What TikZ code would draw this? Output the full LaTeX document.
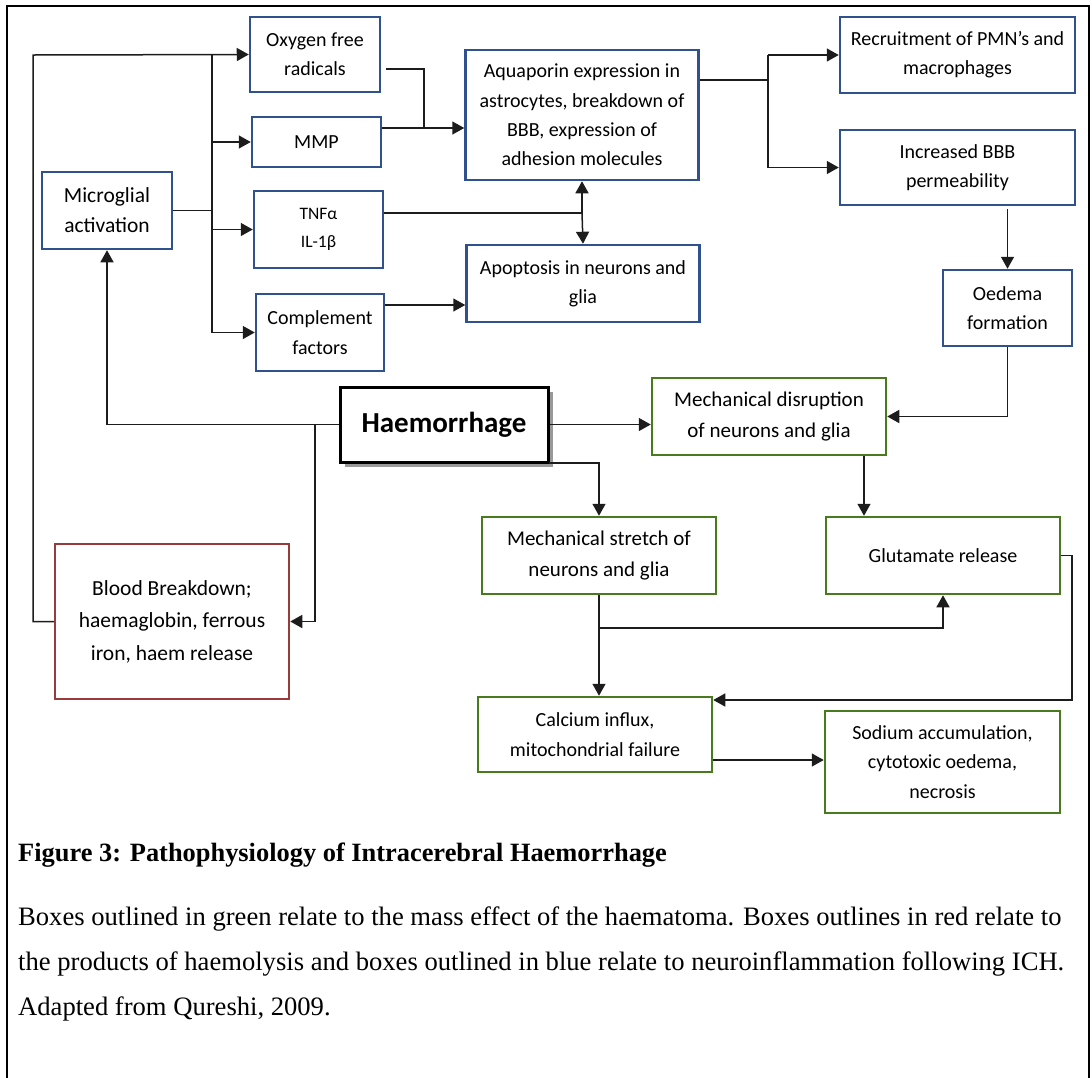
\documentclass[tikz,border=0pt]{standalone}
\usepackage{fontspec}
\setmainfont{Liberation Serif}
\newfontfamily\boxfont{Carlito}
\usetikzlibrary{arrows.meta,shadows}
\definecolor{bxblue}{HTML}{2F528F}
\definecolor{bxgreen}{HTML}{4A7A1E}
\definecolor{bxred}{HTML}{9A3B3B}
\definecolor{lnc}{HTML}{1C1C1C}
\begin{document}
\begin{tikzpicture}[x=1pt,y=-1pt,
  bx/.style={draw, line width=2.5pt, inner sep=0pt, align=center, fill=white,
    font=\boxfont\fontsize{20}{29.3}\selectfont},
  bblue/.style={bx, draw=bxblue},
  bgreen/.style={bx, draw=bxgreen, font=\boxfont\fontsize{21}{31.5}\selectfont},
  bgreens/.style={bx, draw=bxgreen},
  bred/.style={bx, draw=bxred, font=\boxfont\fontsize{21.5}{32.5}\selectfont},
  ln/.style={draw=lnc, line width=1.5pt},
  arr/.style={ln, -{Triangle[length=12pt,width=13pt]}},
]
\useasboundingbox (0,0) rectangle (1092,1077);
\draw[line width=2pt] (7,1080) -- (7,6) -- (1089,6) -- (1089,1080);

% blue boxes
\node[bblue, minimum width=130, minimum height=75] (oxy) at (315,54.5) {Oxygen free\\radicals};
\node[bblue, minimum width=129, minimum height=50] (mmp) at (316.5,142) {MMP};
\node[bblue, minimum width=129, minimum height=77, font=\boxfont\fontsize{17.5}{28}\selectfont] (tnf) at (318.5,229.5) {TNFα\\IL-1β};
\node[bblue, minimum width=128, minimum height=77] (comp) at (320,332.5) {Complement\\factors};
\node[bblue, minimum width=130, minimum height=77, font=\boxfont\fontsize{21.5}{30}\selectfont] (micro) at (107,210.5) {Microglial\\activation};
\node[bblue, minimum width=233, minimum height=130] (aqua) at (582,115) {Aquaporin expression in\\astrocytes, breakdown of\\BBB, expression of\\adhesion molecules};
\node[bblue, minimum width=233, minimum height=77] (apop) at (583,283.5) {Apoptosis in neurons and\\glia};
\node[bblue, minimum width=235, minimum height=76] (recr) at (957.5,55) {Recruitment of PMN’s and\\macrophages};
\node[bblue, minimum width=235, minimum height=75] (incr) at (957.5,167.5) {Increased BBB\\permeability};
\node[bblue, minimum width=129, minimum height=76] (oed) at (1007.5,308) {Oedema\\formation};

% haemorrhage
\node[draw=black, line width=3pt, fill=white, minimum width=208, minimum height=75, inner sep=0pt,
  font=\boxfont\bfseries\fontsize{29}{34}\selectfont,
  drop shadow={shadow xshift=5pt, shadow yshift=-5pt, fill=black!40, opacity=1}] (haem) at (444,424.5) {Haemorrhage};

% red
\node[bred, minimum width=234, minimum height=155] (blood) at (172,621.5) {Blood Breakdown;\\haemaglobin, ferrous\\iron, haem release};

% green
\node[bgreen, minimum width=234, minimum height=77] (disr) at (769,416.5) {Mechanical disruption\\of neurons and glia};
\node[bgreen, minimum width=234, minimum height=77] (stre) at (599,555.5) {Mechanical stretch of\\neurons and glia};
\node[bgreens, minimum width=234, minimum height=77] (glut) at (943,555.5) {Glutamate release};
\node[bgreens, minimum width=234, minimum height=75] (calc) at (595,734.5) {Calcium influx,\\mitochondrial failure};
\node[bgreens, minimum width=235, minimum height=102] (sodi) at (942.5,762) {Sodium accumulation,\\cytotoxic oedema,\\necrosis};

% junction coordinates
\coordinate (brT) at (212,55);
\coordinate (brB) at (212,332.5);
\coordinate (lft) at (33,55);
\coordinate (oy) at (386,69);
\coordinate (oj) at (424,128);
\coordinate (tj) at (582,213);
\coordinate (cj) at (0,305);
\coordinate (aj) at (768,80);
\coordinate (hb) at (315,424.5);
\coordinate (hs) at (549,463);
\coordinate (gx) at (864,0);
\coordinate (sj) at (599,628);
\coordinate (rj) at (1072,700);
\coordinate (sj2) at (0,760);

% microglia branches
\draw[ln] (micro.east) -- (micro.east -| brT);
\draw[ln] (brT) -- (brB);
\draw[arr] (brT |- mmp.west) -- (mmp.west);
\draw[arr] (brT |- tnf.west) -- (tnf.west);
\draw[arr] (brB) -- (comp.west);
\draw[arr] (blood.west) -| (lft) -- (oxy.west);

% to aquaporin
\draw[ln] (oy) -| (oj);
\draw[arr] (mmp.east |- oj) -- (aqua.west |- oj);
\draw[ln] (tnf.east |- tj) -- (tj);
\draw[arr] (tj) -- (aqua.south);
\draw[arr] (tj) -- (apop.north);
\draw[arr] (comp.east |- cj) -- (apop.west |- cj);

% aquaporin right
\draw[ln] (aqua.east |- aj) -- (aj);
\draw[ln] (aj |- recr.west) -- (aj |- incr.west);
\draw[arr] (aj |- recr.west) -- (recr.west);
\draw[arr] (aj |- incr.west) -- (incr.west);
\draw[arr] ([yshift=-3pt]oed.north |- incr.south) -- (oed.north);
\draw[arr] (oed.south) |- (disr.east);

% haemorrhage
\draw[arr] (haem.east) -- (disr.west |- haem.east);
\draw[arr] (haem.west) -| (micro.south);
\draw[arr] (hb) |- (blood.east);
\draw[arr] (hs) -| (stre.north);

% green flow
\draw[arr] (disr.south -| gx) -- (glut.north -| gx);
\draw[arr] (stre.south) -- (calc.north -| stre.south);
\draw[arr] (sj) -| (glut.south);
\draw[arr] (glut.east) -| (rj) -- (calc.east |- rj);
\draw[arr] (calc.east |- sj2) -- (sodi.west |- sj2);

% caption
\node[anchor=west, inner sep=0pt, font=\bfseries\fontsize{26.4}{30}\selectfont] (title) at (18,855) {Figure 3: Pathophysiology of Intracerebral Haemorrhage};
\node[anchor=north west, inner sep=0pt, align=left, font=\fontsize{26.6}{45}\selectfont] (body) at (18,907) {Boxes outlined in green relate to the mass effect of the haematoma. Boxes outlines in red relate to\\the products of haemolysis and boxes outlined in blue relate to neuroinflammation following ICH.\\Adapted from Qureshi, 2009.};
\end{tikzpicture}
\end{document}
